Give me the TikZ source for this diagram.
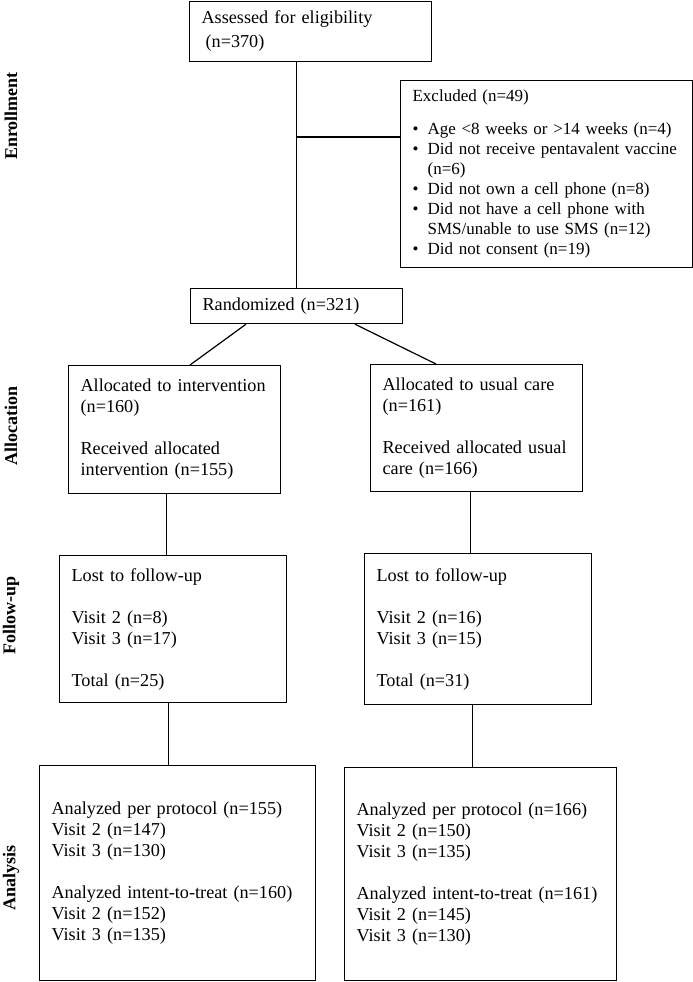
\documentclass[tikz,border=0pt]{standalone}
\usepackage{fontspec}
\setmainfont{Liberation Serif}
\newcommand{\itm}{\makebox[15pt][l]{\textbullet}}
\newcommand{\ind}{\hspace*{15pt}}
\begin{document}
\begin{tikzpicture}[x=1pt,y=-1pt,
  box/.style={draw, line width=1.2pt, anchor=north west, align=left,
    inner xsep=12pt, inner ysep=0pt, font=\fontsize{18.2}{21}\selectfont},
  phase/.style={rotate=90, font=\fontsize{18}{21}\selectfont\bfseries}]
\useasboundingbox (0,0) rectangle (693,982);
% Phase labels
\node[phase] (enroll) at (11,116) {Enrollment};
\node[phase] (alloc) at (11,426) {Allocation};
\node[phase] (follow) at (11,615) {Follow-up};
\node[phase] (analysis) at (11,878) {Analysis};
% Enrollment boxes
\node[box, text width=218pt, minimum height=60pt] (assess) at (189,0.6)
  {Assessed for eligibility\\[3pt]\hspace*{4pt}(n=370)};
\node[box, text width=268pt, minimum height=187pt,
  font=\fontsize{17}{20}\selectfont] (excl) at (400,80)
  {Excluded (n=49)\\[13pt]
   \itm Age <8 weeks or >14 weeks (n=4)\\
   \itm Did not receive pentavalent vaccine\\
   \ind (n=6)\\
   \itm Did not own a cell phone (n=8)\\
   \itm Did not have a cell phone with\\
   \ind SMS/unable to use SMS (n=12)\\
   \itm Did not consent (n=19)};
\node[box, text width=188pt, minimum height=35pt] (rand) at (190,288)
  {Randomized (n=321)};
% Allocation boxes
\node[box, text width=188pt, minimum height=128pt] (allocL) at (68,365)
  {Allocated to intervention\\(n=160)\\[21pt]Received allocated\\intervention (n=155)};
\node[box, text width=188pt, minimum height=127pt] (allocR) at (370,364)
  {Allocated to usual care\\(n=161)\\[21pt]Received allocated usual\\care (n=166)};
% Follow-up boxes
\node[box, text width=203pt, minimum height=147pt] (fupL) at (59,555)
  {Lost to follow-up\\[21pt]Visit 2 (n=8)\\Visit 3 (n=17)\\[21pt]Total (n=25)};
\node[box, text width=203pt, minimum height=151pt] (fupR) at (364,553)
  {Lost to follow-up\\[21pt]Visit 2 (n=16)\\Visit 3 (n=15)\\[21pt]Total (n=31)};
% Analysis boxes
\node[box, text width=252pt, minimum height=215pt] (anaL) at (39,765)
  {Analyzed per protocol (n=155)\\Visit 2 (n=147)\\Visit 3 (n=130)\\[21pt]
   Analyzed intent-to-treat (n=160)\\Visit 2 (n=152)\\Visit 3 (n=135)};
\node[box, text width=248pt, minimum height=213pt] (anaR) at (344,767)
  {Analyzed per protocol (n=166)\\Visit 2 (n=150)\\Visit 3 (n=135)\\[21pt]
   Analyzed intent-to-treat (n=161)\\Visit 2 (n=145)\\Visit 3 (n=130)};
% Draw connectors
\coordinate (branch) at (296,137);
\draw[line width=1.2pt] (rand.north |- assess.south) -- (rand.north);
\draw[line width=1.2pt] (branch) -- (branch -| excl.west);
\draw[line width=1.2pt] ([xshift=56pt]rand.south west) -- ([xshift=122pt]allocL.north west);
\draw[line width=1.2pt] ([xshift=165pt]rand.south west) -- ([xshift=66pt]allocR.north west);
\draw[line width=1.2pt] ([xshift=-8pt]allocL.south) -- ([xshift=-8pt]allocL.south |- fupL.north);
\draw[line width=1.2pt] ([xshift=-6pt]allocR.south) -- ([xshift=-6pt]allocR.south |- fupR.north);
\draw[line width=1.2pt] ([xshift=-4.5pt]fupL.south) -- ([xshift=-4.5pt]fupL.south |- anaL.north);
\draw[line width=1.2pt] ([xshift=-5.5pt]fupR.south) -- ([xshift=-5.5pt]fupR.south |- anaR.north);
\end{tikzpicture}
\end{document}
